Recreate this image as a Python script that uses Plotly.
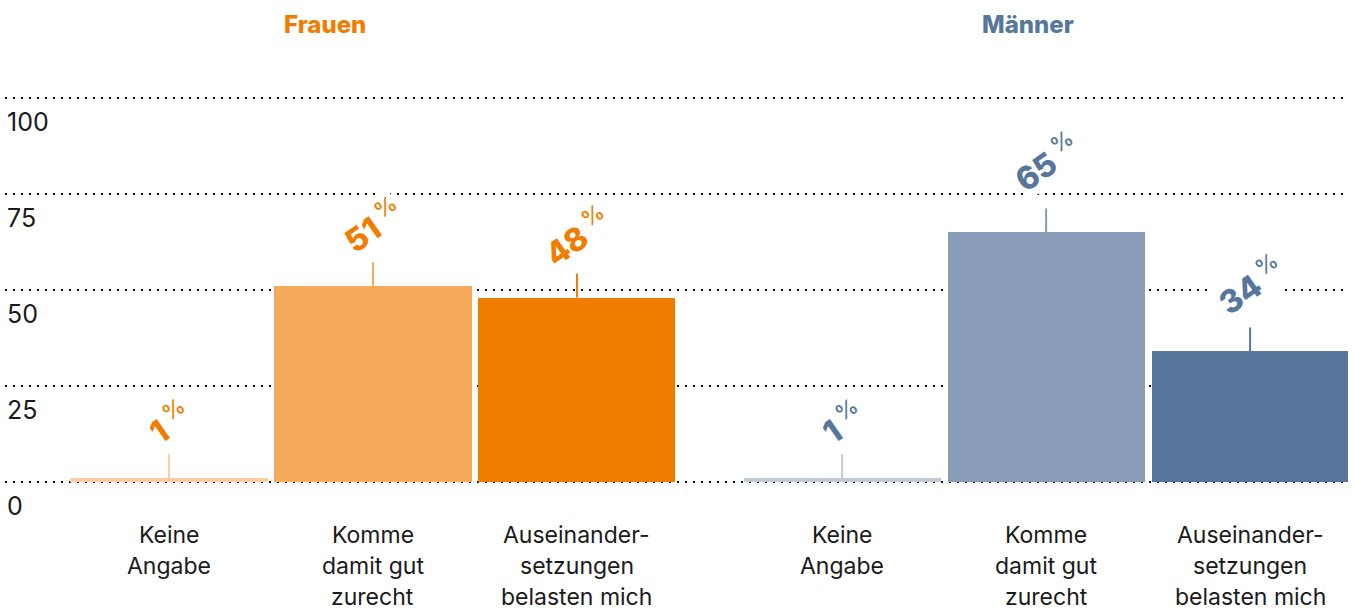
import plotly.graph_objects as go

# ---- data ----
categories = ["Keine<br>Angabe", "Komme<br>damit gut<br>zurecht", "Auseinander-<br>setzungen<br>belasten mich"]
frauen_values = [1, 51, 48]
maenner_values = [1, 65, 34]
group_titles = ["Frauen", "Männer"]
y_ticks = [0, 25, 50, 75, 100]

frauen_x = [0, 1, 2]
maenner_x = [3.3, 4.3, 5.3]

# label offsets above the bars (pixels)
frauen_label_shift = [57, 62, 62]
maenner_label_shift = [57, 71, 67]

frauen_colors = ["#fbcda2", "#f5aa5c", "#f07d00"]
maenner_colors = ["#c2cada", "#8a9bb8", "#56779b"]
frauen_dark = "#f07d00"
maenner_dark = "#56779b"

FONT = "Inter"
BAR_W = 0.966
STEM = 6.25  # stem length in value units

PLOT_TOP_PX, PLOT_BOTTOM_PX = 95, 485
PLOT_H = PLOT_BOTTOM_PX - PLOT_TOP_PX

fig = go.Figure()
fig.add_trace(go.Bar(x=frauen_x, y=frauen_values, width=BAR_W,
                     marker=dict(color=frauen_colors, line=dict(width=0)),
                     hoverinfo="skip", showlegend=False))
fig.add_trace(go.Bar(x=maenner_x, y=maenner_values, width=BAR_W,
                     marker=dict(color=maenner_colors, line=dict(width=0)),
                     hoverinfo="skip", showlegend=False))

shapes = []
annotations = []
for xs, vals, cols, dark, shifts in [
        (frauen_x, frauen_values, frauen_colors, frauen_dark, frauen_label_shift),
        (maenner_x, maenner_values, maenner_colors, maenner_dark, maenner_label_shift)]:
    for x, v, c, s in zip(xs, vals, cols, shifts):
        shapes.append(dict(type="line", xref="x", yref="y", x0=x, x1=x, y0=v, y1=v + STEM,
                           line=dict(color=c, width=2), layer="above"))
        txt = f"{v}<sup><span style='font-weight:500'> %</span></sup>"
        annotations.append(dict(x=x, y=v, xref="x", yref="y", text=txt, showarrow=False,
                                textangle=-35, yshift=s,
                                bgcolor="white", borderpad=0,
                                font=dict(family=FONT, size=32, color=dark, weight=800)))

# category labels under bars (one annotation per line for the wider line spacing)
for xs in (frauen_x, maenner_x):
    for x, cat in zip(xs, categories):
        for i, line in enumerate(cat.split("<br>")):
            annotations.append(dict(x=x, y=0, xref="x", yref="y", text=line, showarrow=False,
                                    yanchor="middle", yshift=-(53 + 31 * i), borderpad=0,
                                    font=dict(family=FONT, size=23, color="#1a1a1a")))

# y tick labels, placed below their gridlines
for t in y_ticks:
    annotations.append(dict(x=0, y=t, xref="paper", yref="y", text=str(t), showarrow=False,
                            xanchor="left", yanchor="middle", yshift=-24,
                            font=dict(family=FONT, size=25, color="#1a1a1a")))

title_x = [0.765, 4.21]
for t, tx, col in zip(group_titles, title_x, [frauen_dark, maenner_dark]):
    annotations.append(dict(x=tx, y=(PLOT_BOTTOM_PX - 25) / PLOT_H, xref="x", yref="paper",
                            text=t, showarrow=False, yanchor="middle",
                            font=dict(family=FONT, size=24, color=col, weight=800)))

fig.update_layout(
    width=1355, height=610,
    margin=dict(l=5, r=7, t=PLOT_TOP_PX, b=610 - PLOT_BOTTOM_PX, autoexpand=False),
    paper_bgcolor="white", plot_bgcolor="white",
    bargap=0, barmode="overlay",
    shapes=shapes, annotations=annotations,
    font=dict(family=FONT, color="#1a1a1a"),
    xaxis=dict(range=[-0.804, 5.78], showticklabels=False, automargin=False,
               showgrid=False, zeroline=False, showline=False, ticks=""),
    yaxis=dict(range=[-0.78125, 100.78125], tickmode="array", tickvals=y_ticks,
               automargin=False, showticklabels=False,
               showgrid=True, gridcolor="#111111", gridwidth=2, griddash="2px,6px",
               zeroline=False, showline=False, ticks=""),
)

fig.write_html("out.html", config={"displayModeBar": False},
               post_script="document.body.style.margin='0px';")
